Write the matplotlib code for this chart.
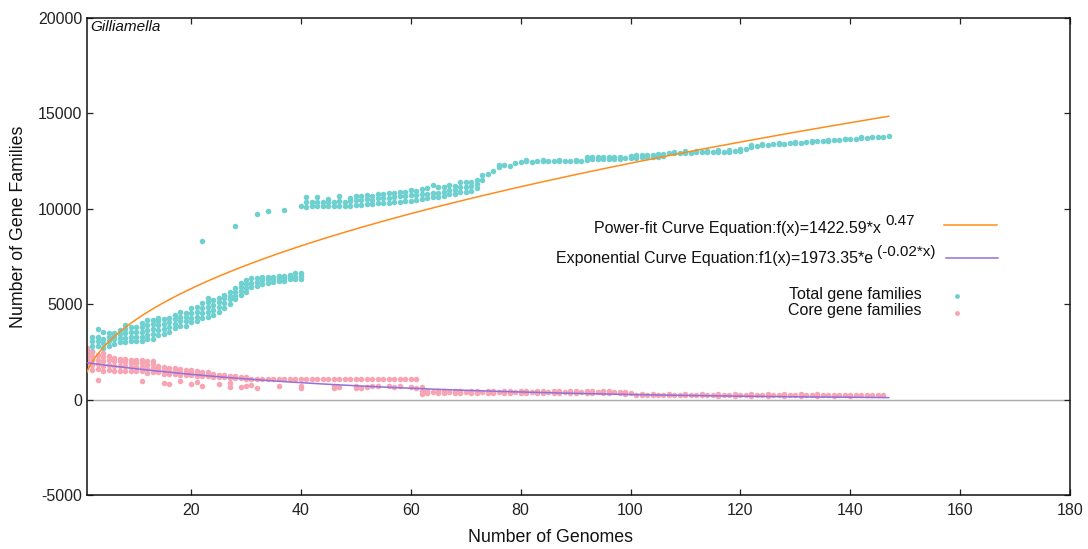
import numpy as np
import matplotlib.pyplot as plt
from matplotlib.lines import Line2D

plt.rcParams['font.family'] = ['Liberation Sans', 'DejaVu Sans']
plt.rcParams['axes.unicode_minus'] = False

# number of genomes sampled (x) and the gene family counts seen at each size
genomes = list(range(1, 148))

total_cols = [
    [1900, 2150, 2400], [2550, 2800, 3050, 3300], [2800, 3050, 3300, 3700], [2700, 2950, 3200, 3550],
    [2800, 3050, 3300, 3500], [2900, 3150, 3350, 3500], [3000, 3250, 3450, 3650], [3000, 3250, 3500, 3700, 3900],
    [3050, 3300, 3550, 3800], [3050, 3300, 3550, 3800], [3050, 3300, 3550, 3800, 4000], [3150, 3400, 3650, 3900, 4150],
    [3200, 3450, 3700, 3950, 4150], [3400, 3650, 3900, 4100, 4300], [3450, 3700, 3950, 4200], [3550, 3800, 4050, 4300],
    [3750, 3950, 4200, 4450], [3850, 4100, 4350, 4600], [3850, 4100, 4350, 4550], [4050, 4300, 4550, 4800],
    [4100, 4350, 4600, 4850], [4300, 4550, 4800, 5050, 8300], [4350, 4600, 4850, 5100, 5350], [4450, 4700, 4950, 5200],
    [4600, 4850, 5100, 5300], [4800, 5050, 5300, 5500], [5000, 5250, 5450, 5650], [5250, 5450, 5650, 5850, 9080],
    [5500, 5700, 5900, 6100], [5650, 5850, 6050, 6250], [5900, 6100, 6350], [5950, 6150, 6350, 9750],
    [6050, 6250, 6450], [6100, 6300, 6450, 9870], [6150, 6300, 6450], [6200, 6350, 6500],
    [6200, 6350, 6500, 9940], [6300, 6450, 6550], [6300, 6450, 6650], [6300, 6500, 6650, 10150],
    [10100, 10350, 10600], [10150, 10350], [10150, 10350, 10600], [10150, 10350], [10150, 10350, 10500],
    [10150, 10350], [10150, 10400, 10650], [10150, 10350], [10150, 10400, 10550], [10200, 10450, 10650],
    [10200, 10450, 10650], [10250, 10500, 10700], [10250, 10450, 10650], [10300, 10550, 10750], [10300, 10550, 10800],
    [10300, 10550, 10850], [10350, 10600, 10850], [10350, 10650, 10900], [10400, 10650, 10900], [10400, 10700, 11000],
    [10450, 10700, 10950], [10500, 10750, 11050], [10550, 10800, 11100], [10600, 10850, 11250], [10600, 10850, 11150],
    [10650, 10900, 11150], [10750, 11000, 11250], [10750, 11000, 11200], [10900, 11150, 11400], [10900, 11150, 11400],
    [10950, 11200, 11400], [11100, 11300, 11500], [11500, 11750], [11850], [12000],
    [12200, 12300], [12300], [12250], [12400], [12450],
    [12480, 12560], [12470], [12480], [12490, 12570], [12480],
    [12500], [12490, 12570], [12500], [12510], [12500, 12580],
    [12520], [12580, 12700], [12600, 12720], [12590, 12710], [12600, 12730],
    [12610, 12720], [12600, 12740], [12620, 12730], [12640], [12650, 12760],
    [12660, 12800], [12700, 12820], [12690, 12810], [12720, 12840], [12740, 12850],
    [12760, 12860], [12900], [12920, 13000], [12930], [12940, 13020],
    [12950], [12960, 13040], [12960], [12970, 13050], [12980],
    [12990, 13060], [13000], [13000, 13080], [13020], [13050, 13120],
    [13150], [13250, 13330], [13300], [13330, 13400], [13360],
    [13380], [13400, 13460], [13420], [13440], [13450, 13500],
    [13470], [13490], [13510, 13560], [13530], [13550],
    [13570, 13620], [13600], [13620], [13640, 13680], [13660],
    [13680], [13700, 13740], [13720], [13740], [13760],
    [13780], [13800],
]

core_cols = [
    [1800, 2050, 2300, 2550, 2700], [1550, 1800, 2050, 2300, 2500], [1600, 1850, 2100, 2350, 1050], [1500, 1750, 2000, 2250, 2450],
    [1550, 1800, 2050, 2300], [1500, 1750, 2000, 2200], [1500, 1750, 2000, 2150], [1500, 1750, 1950, 2150],
    [1500, 1700, 1900, 2100], [1500, 1700, 1900, 2050], [1500, 1700, 1900, 2050, 1000], [1400, 1600, 1800, 2000],
    [1450, 1650, 1850, 2000], [1450, 1600, 1750], [1350, 1550, 1700, 870], [1350, 1500, 1650, 840],
    [1350, 1500, 1650], [1300, 1450, 1600, 960], [1300, 1450, 1550], [1300, 1450, 1550, 820],
    [1250, 1400, 1500, 900], [1250, 1350, 1450, 700], [1250, 1350, 1450], [1200, 1350],
    [1200, 1300, 840], [1200, 1300], [1150, 1250, 860, 680], [1150, 1250],
    [1150, 1200, 680], [1100, 1200, 720], [1100, 790], [1100, 610],
    [1100], [1100], [1100], [1100, 720], [1100], [1100], [1100], [1100, 720, 620],
    [1100], [1100], [1100], [1100], [1100], [1100, 720, 620], [1100, 660], [1100],
    [1100], [1100, 720, 620], [1100, 610], [1100, 660], [1100, 735], [1100, 735], [1100],
    [1100, 735], [1100, 660], [1100, 700], [1100], [1100, 660], [1100, 630],
    [300, 450, 650], [340, 460], [400], [340, 460], [350, 460], [400], [340, 460], [340, 450],
    [400], [340, 460], [330, 450], [400], [340, 460], [340, 450], [400], [330, 450],
    [340, 460], [400], [330, 450], [340, 450], [400], [330, 440], [340, 450], [390],
    [330, 440], [330, 450], [390], [330, 440], [320, 440], [390], [320, 430], [330, 440],
    [380], [320, 430], [320, 430], [380], [320, 420], [310, 420], [370],
    [250], [220, 290], [250], [220, 290], [250], [250], [220, 290], [250],
    [250], [220, 290], [250], [240], [220, 280], [240], [240], [210, 280],
    [240], [240], [210, 280], [240], [240], [210, 280], [230], [230],
    [210, 270], [230], [230], [210, 270], [230], [230], [210, 270], [230],
    [230], [200, 270], [230], [230], [200, 260], [230], [220], [200, 260],
    [220], [220], [220], [220], [220], [220],
]

power_a, power_b = 1422.59, 0.47
exp_a, exp_b = 1973.35, -0.02

cyan = '#6fd0d0'
pink = '#f7a5b3'
orange = '#ff8c1a'
purple = '#9370db'

W, H = 1088, 549
fig = plt.figure(figsize=(W / 100, H / 100), dpi=100)
ax = fig.add_axes([86.7 / W, 1 - 495 / H, (1070 - 86.7) / W, (495 - 18) / H])


def fpos(x, y):
    # pixel position -> figure fraction
    return x / W, 1 - y / H


ax.axhline(0, color='#aaaaaa', lw=1.0, zorder=1)

tx, ty = [], []
for n, vals in zip(genomes, total_cols):
    tx += [n] * len(vals)
    ty += vals
cx, cy = [], []
for n, vals in zip(genomes, core_cols):
    cx += [n] * len(vals)
    cy += vals

ax.plot(tx, ty, 'o', ms=4.0, color=cyan, mec='none', zorder=2)
ax.plot(cx, cy, 'o', ms=4.0, color=pink, mec='none', zorder=2)

xfit = np.linspace(1, 147, 300)
ax.plot(xfit, power_a * xfit ** power_b, color=orange, lw=1.1, zorder=3)
ax.plot(xfit, exp_a * np.exp(exp_b * xfit), color=purple, lw=1.1, zorder=3)

ax.set_xlim(1, 180)
ax.set_ylim(-5000, 20000)
ax.set_xticks([20, 40, 60, 80, 100, 120, 140, 160, 180])
ax.set_yticks([-5000, 0, 5000, 10000, 15000, 20000])
ax.tick_params(direction='in', length=4.5, width=0.9, top=True, right=True,
               labelsize=11.5, colors='#222222')
ax.tick_params(axis='x', pad=6)
ax.tick_params(axis='y', pad=3)
for s in ax.spines.values():
    s.set_linewidth(1.1)
    s.set_color('#111111')

fig.text(*fpos(551, 537), 'Number of Genomes', ha='center', va='center', fontsize=12.8, color='#111111')
fig.text(*fpos(19, 227), 'Number of Gene Families', ha='center', va='center', rotation=90,
         fontsize=12.8, color='#111111')
fig.text(*fpos(90, 27), 'Gilliamella', ha='left', va='center', fontsize=11, style='italic', color='#111111')

# key
fig.text(*fpos(881, 229), 'Power-fit Curve Equation:f(x)=1422.59*x', ha='right', va='center',
         fontsize=11.5, color='#111111')
fig.text(*fpos(885, 221), '0.47', ha='left', va='center', fontsize=11, color='#111111')
fig.add_artist(Line2D([fpos(944, 0)[0], fpos(997, 0)[0]], [fpos(0, 225)[1]] * 2, color=orange, lw=1.1))

fig.text(*fpos(873, 259), 'Exponential Curve Equation:f1(x)=1973.35*e', ha='right', va='center',
         fontsize=11.5, color='#111111')
fig.text(*fpos(877, 252), '(-0.02*x)', ha='left', va='center', fontsize=11, color='#111111')
fig.add_artist(Line2D([fpos(946, 0)[0], fpos(998, 0)[0]], [fpos(0, 258)[1]] * 2, color=purple, lw=1.1))

fig.text(*fpos(922, 295), 'Total gene families', ha='right', va='center', fontsize=11.5, color='#111111')
fig.add_artist(Line2D([fpos(957, 0)[0]], [fpos(0, 296)[1]], marker='o', ms=3.5, color=cyan, mec='none'))
fig.text(*fpos(922, 311), 'Core gene families', ha='right', va='center', fontsize=11.5, color='#111111')
fig.add_artist(Line2D([fpos(957, 0)[0]], [fpos(0, 313)[1]], marker='o', ms=3.5, color=pink, mec='none'))

fig.savefig('out.png', dpi=100)
